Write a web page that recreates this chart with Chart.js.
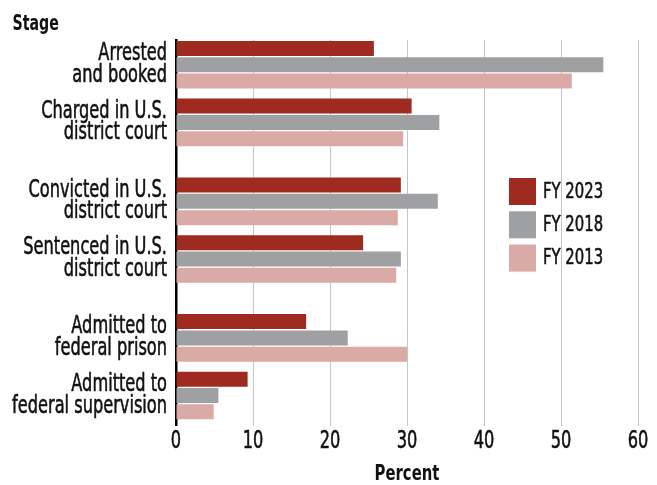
<!DOCTYPE html>
<html><head><meta charset="utf-8">
<script src="https://cdn.jsdelivr.net/npm/chart.js@4/dist/chart.umd.min.js"></script>
<style>html,body{margin:0;padding:0;background:#fff}</style>
</head><body>
<canvas id="c" width="657" height="485"></canvas>
<script>
// ---- data ----
const stages = [
  ["Arrested", "and booked"],
  ["Charged in U.S.", "district court"],
  ["Convicted in U.S.", "district court"],
  ["Sentenced in U.S.", "district court"],
  ["Admitted to", "federal prison"],
  ["Admitted to", "federal supervision"]
];
const sections = [0, 0, 1, 1, 2, 2];
const seriesNames = ["FY 2023", "FY 2018", "FY 2013"];
const fy2023 = [25.7, 30.6, 29.2, 24.3, 16.9, 9.3];
const fy2018 = [55.5, 34.2, 34.0, 29.2, 22.3, 5.5];
const fy2013 = [51.4, 29.5, 28.8, 28.6, 30.0, 4.9];
const xTicks = [0, 10, 20, 30, 40, 50, 60];
const yAxisTitle = "Stage";
const xAxisTitle = "Percent";

// ---- layout / style ----
const FONT = "'DejaVu Sans Condensed', 'DejaVu Sans', sans-serif";
const TEXT_SX = 0.75; // horizontal condensing of all text
const colors = ["#9f2a20", "#9fa0a2", "#d9aaa6"];
const SECTION_GAP = 0.37;
const positions = stages.map((_, i) => i + sections[i] * SECTION_GAP);
const series = [fy2023, fy2018, fy2013];

const datasets = series.map((vals, s) => ({
  label: seriesNames[s],
  data: vals.map((v, i) => ({ x: v, y: positions[i] })),
  backgroundColor: colors[s],
  borderWidth: 0,
  categoryPercentage: 0.85,
  barPercentage: 0.92
}));

const condense = {
  id: 'condense',
  beforeInit(chart) {
    const ctx = chart.ctx;
    const orig = ctx.fillText.bind(ctx);
    const origStroke = ctx.strokeText.bind(ctx);
    ctx.fillText = function (t, x, y) {
      ctx.save();
      ctx.translate(x, y);
      ctx.scale(TEXT_SX, 1);
      orig(t, 0, 0);
      if (!/bold/.test(ctx.font)) {
        ctx.strokeStyle = ctx.fillStyle;
        ctx.lineWidth = 0.55;
        ctx.lineJoin = 'round';
        origStroke(t, 0, 0);
      }
      ctx.restore();
    };
  }
};

const extras = {
  id: 'extras',
  afterDraw(chart) {
    const ctx = chart.ctx;
    ctx.save();
    ctx.fillStyle = '#111';
    ctx.font = "bold 21px " + FONT;
    ctx.textBaseline = 'alphabetic';
    ctx.textAlign = 'left';
    ctx.fillText(yAxisTitle, 12.5, 30);
    // legend
    chart.data.datasets.forEach((ds, i) => {
      const y = 178 + i * 33.3;
      ctx.fillStyle = ds.backgroundColor;
      ctx.fillRect(509, y, 27, 27);
      ctx.fillStyle = '#111';
      ctx.font = "22px " + FONT;
      ctx.textBaseline = 'middle';
      ctx.fillText(ds.label, 543, y + 14);
    });
    ctx.restore();
  }
};

new Chart(document.getElementById('c'), {
  type: 'bar',
  data: { datasets },
  options: {
    indexAxis: 'y',
    responsive: false,
    animation: false,
    layout: { padding: { top: 40, right: 19, bottom: 0, left: 0 } },
    plugins: { legend: { display: false }, tooltip: { enabled: false } },
    scales: {
      x: {
        type: 'linear',
        min: xTicks[0],
        max: xTicks[xTicks.length - 1],
        afterBuildTicks: s => { s.ticks = xTicks.map(v => ({ value: v })); },
        afterFit: s => { s.height = 59.5; },
        grid: { color: '#c6c6c6', lineWidth: 1, drawTicks: false },
        border: { display: false },
        ticks: { color: '#111', padding: 4.5, font: { family: FONT, size: 24, lineHeight: 1 } },
        title: { display: true, text: xAxisTitle, color: '#111', padding: { top: 0, bottom: 0 },
                 font: { family: FONT, size: 22, weight: 'bold', lineHeight: 1 } }
      },
      y: {
        type: 'linear',
        offset: false,
        reverse: true,
        min: -0.43,
        max: positions[positions.length - 1] + 0.52,
        afterBuildTicks: s => { s.ticks = positions.map(v => ({ value: v })); },
        afterFit: s => { s.width = 176; },
        grid: { display: false, drawTicks: false, offset: false },
        border: { display: true, color: '#000', width: 2.5 },
        ticks: {
          color: '#111', padding: 9,
          font: { family: FONT, size: 24, lineHeight: 0.9 },
          callback: (v, i) => stages[i]
        }
      }
    }
  },
  plugins: [condense, extras]
});
</script>
</body></html>
